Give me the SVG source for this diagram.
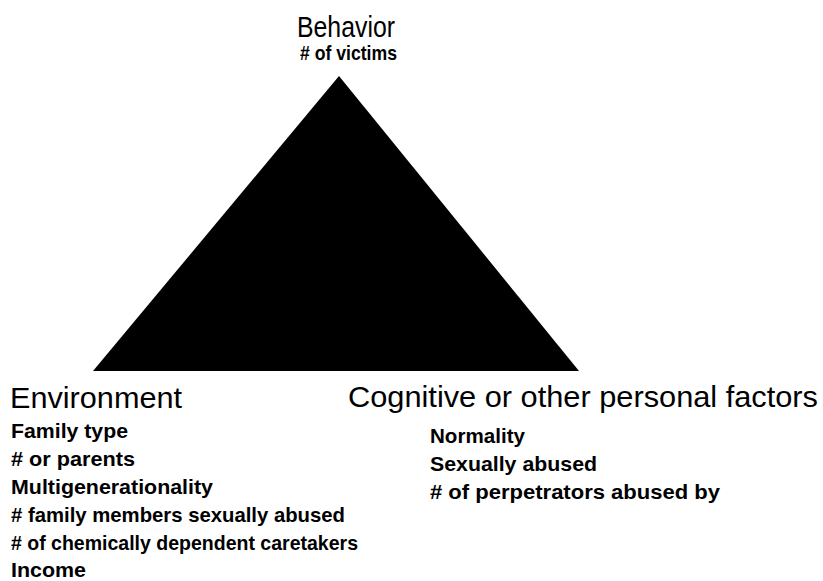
<svg xmlns="http://www.w3.org/2000/svg" width="823" height="581" viewBox="0 0 823 581">
  <style>
    text { font-family: "Liberation Sans", Arial, Helvetica, sans-serif; fill: #000; }
    .head { font-size: 29px; }
    .item { font-size: 21px; font-weight: bold; }
  </style>
  <rect width="823" height="581" fill="#fff"/>

  <!-- central triangle -->
  <g id="triangle">
    <polygon points="339,76 93,371 579,371" fill="#000"/>
  </g>

  <!-- apex: Behavior -->
  <g id="behavior">
    <text class="head" x="297" y="37" textLength="98" lengthAdjust="spacingAndGlyphs">Behavior</text>
    <text class="item" x="300" y="60" textLength="97" lengthAdjust="spacingAndGlyphs"># of victims</text>
  </g>

  <!-- lower left: Environment -->
  <g id="environment">
    <text class="head" x="10" y="408" textLength="172" lengthAdjust="spacingAndGlyphs">Environment</text>
    <text class="item" x="11" y="438" textLength="117" lengthAdjust="spacingAndGlyphs">Family type</text>
    <text class="item" x="11" y="466" textLength="124" lengthAdjust="spacingAndGlyphs"># or parents</text>
    <text class="item" x="11" y="494" textLength="202" lengthAdjust="spacingAndGlyphs">Multigenerationality</text>
    <text class="item" x="11" y="522" textLength="334" lengthAdjust="spacingAndGlyphs"># family members sexually abused</text>
    <text class="item" x="11" y="550" textLength="347" lengthAdjust="spacingAndGlyphs"># of chemically dependent caretakers</text>
    <text class="item" x="11" y="577" textLength="75" lengthAdjust="spacingAndGlyphs">Income</text>
  </g>

  <!-- lower right: Cognitive or other personal factors -->
  <g id="cognitive">
    <text class="head" x="348" y="407" textLength="470" lengthAdjust="spacingAndGlyphs">Cognitive or other personal factors</text>
    <text class="item" x="430" y="443" textLength="95" lengthAdjust="spacingAndGlyphs">Normality</text>
    <text class="item" x="430" y="471" textLength="167" lengthAdjust="spacingAndGlyphs">Sexually abused</text>
    <text class="item" x="430" y="499" textLength="290" lengthAdjust="spacingAndGlyphs"># of perpetrators abused by</text>
  </g>

  <!-- no connectors in this figure -->
  <g id="connectors"/>
</svg>
